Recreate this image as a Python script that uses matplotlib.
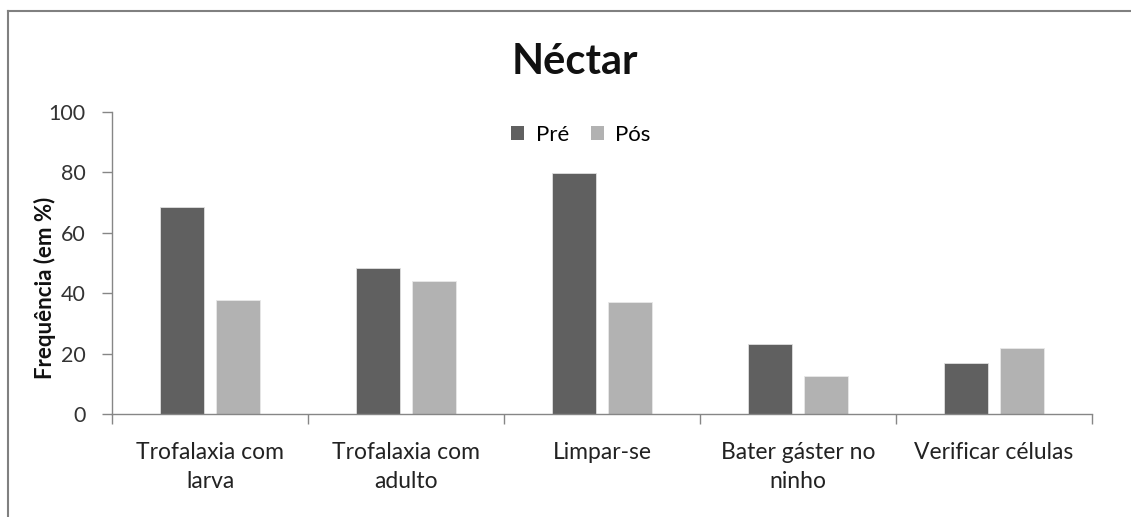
import matplotlib
matplotlib.use("Agg")
import matplotlib.pyplot as plt
from matplotlib.lines import Line2D
from matplotlib.patches import Patch
import numpy as np

categories = ["Trofalaxia com\nlarva", "Trofalaxia com\nadulto", "Limpar-se",
              "Bater gáster no\nninho", "Verificar células"]
pre = [68.6, 48.4, 79.7, 23.3, 17.1]
pos = [37.8, 44.2, 37.0, 12.8, 22.0]
series_names = ["Pré", "Pós"]
title = "Néctar"
ylabel = "Frequência (em %)"
yticks = [0, 20, 40, 60, 80, 100]

plt.rcParams['font.family'] = ['Lato', 'DejaVu Sans']

W, H = 1131, 517
fig = plt.figure(figsize=(W/100, H/100), dpi=100)
ax = fig.add_axes([112/W, 1-414.3/H, (1092-112)/W, (414.3-111.7)/H])

x = np.arange(len(categories))
bw = 0.22
off = 0.143
c_pre, c_pos = "#606060", "#b2b2b2"
ax.bar(x - off, pre, bw, color=c_pre, edgecolor="#e0e0e0", linewidth=0.6, label=series_names[0], zorder=2)
ax.bar(x + off, pos, bw, color=c_pos, edgecolor="#e8e8e8", linewidth=0.6, label=series_names[1], zorder=2)

ax.set_xlim(-0.5, len(categories) - 0.5)
ax.set_ylim(0, 100)
ax.set_yticks(yticks)
ax.set_yticklabels([str(v) for v in yticks], fontsize=15.5, color="#333333")
ax.set_xticks(x)
ax.set_xticklabels(categories, fontsize=16.5, color="#222222", linespacing=1.45)
ax.tick_params(axis='x', length=0, pad=20)
ax.set_xticks(np.arange(len(categories) + 1) - 0.5, minor=True)
ax.tick_params(axis='x', which='minor', length=7, color="#868686", width=1)
ax.tick_params(axis='y', length=7, color="#868686", width=1, pad=12)

for s in ["top", "right"]:
    ax.spines[s].set_visible(False)
for s in ["left", "bottom"]:
    ax.spines[s].set_color("#868686")
    ax.spines[s].set_linewidth(1)

fig.text(45/W, 1-288/H, ylabel, rotation=90, ha="center", va="center",
         fontsize=16, fontweight="bold", color="#111111")
fig.text(575/W, 1-62/H, title, ha="center", va="center", fontsize=30,
         fontweight="bold", color="#111111")

handles = [Patch(facecolor=c_pre, edgecolor="none"), Patch(facecolor=c_pos, edgecolor="none")]
fig.legend(handles, series_names, loc="center", bbox_to_anchor=(581/W, 1-135/H),
           ncol=2, frameon=False, fontsize=16, handlelength=0.6, handleheight=0.6,
           handletextpad=0.5, columnspacing=1.0)

# chart-area border
fig.add_artist(Line2D([8/W, 1], [1-11/H, 1-11/H], color="#808080", linewidth=1.5))
fig.add_artist(Line2D([8/W, 8/W], [0, 1-11/H], color="#808080", linewidth=1.5))

fig.savefig("out.png", dpi=100)
